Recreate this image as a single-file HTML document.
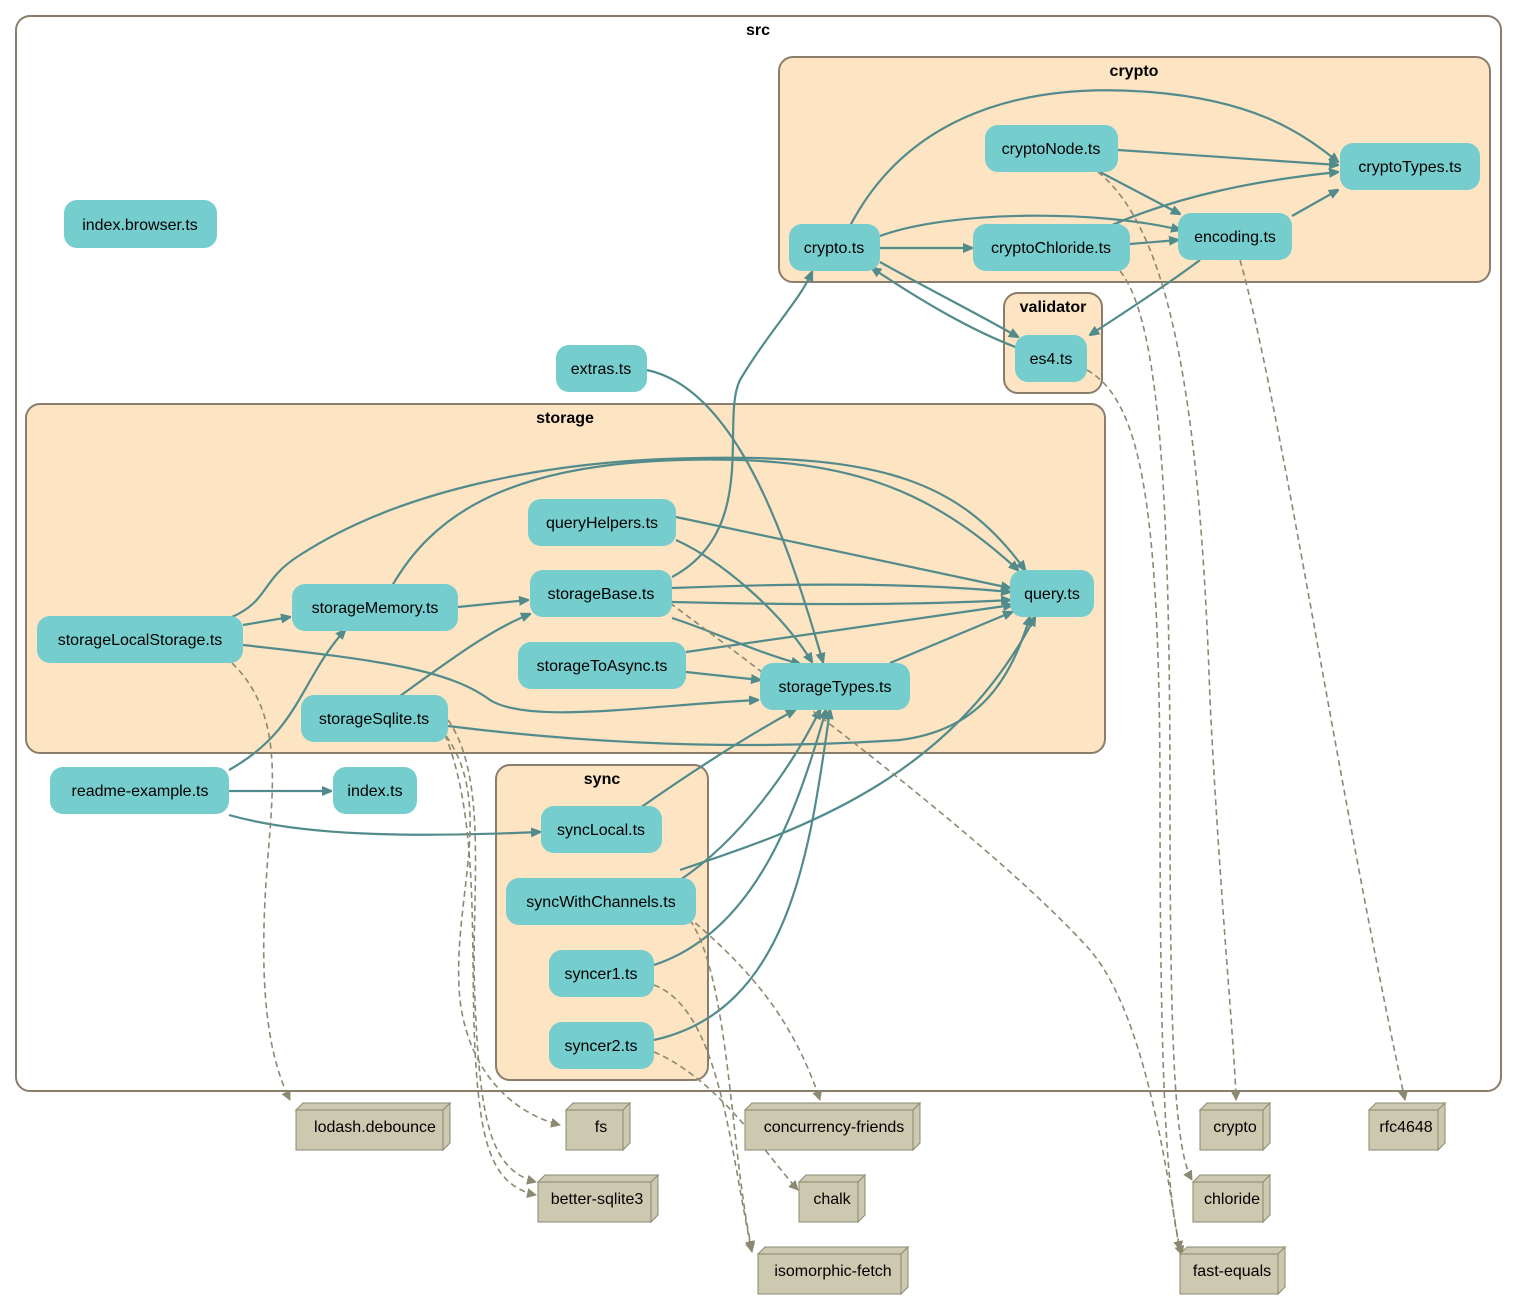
<!DOCTYPE html>
<html><head><meta charset="utf-8"><style>
body{margin:0;background:#fff}
svg{display:block}
text{font-family:"Liberation Sans",Arial,sans-serif;font-size:16px;fill:#000}
.n{fill:#76cdcd}
.cl{stroke:#8b7d6b;stroke-width:2}
.e{fill:none;stroke:#528b8b;stroke-width:2.2}
.d{fill:none;stroke:#8b8970;stroke-width:1.6;stroke-dasharray:6,4}
.x{fill:#cdc8b0;stroke:#8b8970;stroke-width:1}
.t{font-weight:bold}
</style></head><body>
<svg width="1517" height="1300" viewBox="0 0 1517 1300" xmlns="http://www.w3.org/2000/svg">
<defs>
<marker id="a" markerWidth="10" markerHeight="10" refX="9" refY="5" orient="auto" markerUnits="userSpaceOnUse"><path d="M0,0 L12,5 L0,10z" fill="#528b8b"/></marker>
<marker id="b" markerWidth="10" markerHeight="10" refX="9" refY="5" orient="auto" markerUnits="userSpaceOnUse"><path d="M0,0 L10,5 L0,10z" fill="#8b8970"/></marker>
</defs>
<rect x="16" y="16" width="1485" height="1075" rx="14" fill="#fff" class="cl"/>
<text x="758" y="35" text-anchor="middle" class="t">src</text>
<rect x="779" y="57" width="711" height="225" rx="14" fill="#fde4c3" class="cl"/>
<text x="1134" y="76" text-anchor="middle" class="t">crypto</text>
<rect x="1004" y="293" width="98" height="100" rx="14" fill="#fde4c3" class="cl"/>
<text x="1053" y="312" text-anchor="middle" class="t">validator</text>
<rect x="26" y="404" width="1079" height="349" rx="14" fill="#fde4c3" class="cl"/>
<text x="565" y="423" text-anchor="middle" class="t">storage</text>
<rect x="496" y="765" width="212" height="315" rx="14" fill="#fde4c3" class="cl"/>
<text x="602" y="784" text-anchor="middle" class="t">sync</text>

<!-- solid edges -->
<g class="e">
<path d="M1118,150 L1338,165" marker-end="url(#a)"/>
<path d="M1100,172 L1180,214" marker-end="url(#a)"/>
<path d="M1292,216 L1338,190" marker-end="url(#a)"/>
<path d="M1110,226 C1180,195 1260,180 1338,172" marker-end="url(#a)"/>
<path d="M1130,244 L1178,240" marker-end="url(#a)"/>
<path d="M850,226 C900,130 1000,80 1150,92 C1250,100 1300,130 1338,162" marker-end="url(#a)"/>
<path d="M880,236 C950,210 1100,210 1180,230" marker-end="url(#a)"/>
<path d="M880,248 L972,248" marker-end="url(#a)"/>
<path d="M880,262 C930,290 980,315 1018,337" marker-end="url(#a)"/>
<path d="M1018,348 C970,330 920,300 872,268" marker-end="url(#a)"/>
<path d="M1200,260 C1160,290 1120,315 1090,335" marker-end="url(#a)"/>
<path d="M647,370 C740,390 790,550 823,662" marker-end="url(#a)"/>
<path d="M672,577 C760,530 720,420 740,380 C770,330 800,300 812,272" marker-end="url(#a)"/>
<path d="M232,617 C270,600 260,580 300,555 C400,490 550,460 700,458 C880,455 960,480 1025,570" marker-end="url(#a)"/>
<path d="M392,586 C430,520 500,465 680,460 C850,455 930,490 1018,570" marker-end="url(#a)"/>
<path d="M676,517 L1010,588" marker-end="url(#a)"/>
<path d="M676,540 C720,560 780,610 812,662" marker-end="url(#a)"/>
<path d="M672,588 C800,583 920,583 1010,592" marker-end="url(#a)"/>
<path d="M672,602 C800,605 920,605 1010,600" marker-end="url(#a)"/>
<path d="M672,618 C710,630 750,650 800,664" marker-end="url(#a)"/>
<path d="M686,652 L1012,605" marker-end="url(#a)"/>
<path d="M686,672 L760,680" marker-end="url(#a)"/>
<path d="M890,663 L1012,612" marker-end="url(#a)"/>
<path d="M458,607 L528,600" marker-end="url(#a)"/>
<path d="M243,625 L290,617" marker-end="url(#a)"/>
<path d="M243,645 C380,660 450,670 490,700 C530,725 650,705 758,700" marker-end="url(#a)"/>
<path d="M400,696 C450,660 490,630 530,614" marker-end="url(#a)"/>
<path d="M448,726 C600,745 750,750 900,740 C980,730 1010,680 1030,617" marker-end="url(#a)"/>
<path d="M229,770 C300,730 300,680 345,630" marker-end="url(#a)"/>
<path d="M229,791 L331,791" marker-end="url(#a)"/>
<path d="M229,815 C300,835 400,838 540,832" marker-end="url(#a)"/>
<path d="M640,808 C680,780 740,740 795,710" marker-end="url(#a)"/>
<path d="M680,880 C740,840 790,770 820,710" marker-end="url(#a)"/>
<path d="M680,870 C800,830 950,780 1035,617" marker-end="url(#a)"/>
<path d="M654,965 C760,930 800,800 826,710" marker-end="url(#a)"/>
<path d="M654,1040 C790,1010 810,850 830,710" marker-end="url(#a)"/>
</g>

<!-- dashed edges -->
<g class="d">
<path d="M232,663 C290,720 270,800 265,900 C260,1000 270,1060 290,1100" marker-end="url(#b)"/>
<path d="M440,728 C500,800 450,900 460,1000 C470,1080 520,1115 560,1125" marker-end="url(#b)"/>
<path d="M448,720 C490,780 470,900 475,1000 C480,1120 490,1170 536,1182" marker-end="url(#b)"/>
<path d="M445,735 C480,820 470,950 475,1050 C480,1140 490,1185 536,1195" marker-end="url(#b)"/>
<path d="M670,603 C800,700 1000,850 1090,950 C1150,1020 1170,1200 1180,1250" marker-end="url(#b)"/>
<path d="M680,910 C740,960 790,1010 820,1100" marker-end="url(#b)"/>
<path d="M690,920 C730,980 730,1150 752,1250" marker-end="url(#b)"/>
<path d="M654,985 C720,1010 730,1150 752,1252" marker-end="url(#b)"/>
<path d="M654,1052 C720,1080 770,1160 798,1190" marker-end="url(#b)"/>
<path d="M1098,172 C1170,230 1200,400 1210,700 C1220,900 1235,1050 1236,1100" marker-end="url(#b)"/>
<path d="M1120,271 C1160,320 1170,500 1170,800 C1170,1050 1175,1150 1192,1180" marker-end="url(#b)"/>
<path d="M1240,260 C1280,400 1340,800 1405,1100" marker-end="url(#b)"/>
<path d="M1087,370 C1140,400 1160,500 1160,800 C1160,1050 1165,1200 1182,1255" marker-end="url(#b)"/>
</g>

<!-- nodes -->
<g>
<rect class="n" x="64" y="200" width="153" height="48" rx="13"/><text x="140" y="230" text-anchor="middle">index.browser.ts</text>
<rect class="n" x="556" y="345" width="91" height="47" rx="13"/><text x="601" y="374" text-anchor="middle">extras.ts</text>
<rect class="n" x="789" y="224" width="91" height="47" rx="13"/><text x="834" y="253" text-anchor="middle">crypto.ts</text>
<rect class="n" x="985" y="125" width="133" height="47" rx="13"/><text x="1051" y="154" text-anchor="middle">cryptoNode.ts</text>
<rect class="n" x="1340" y="143" width="140" height="47" rx="13"/><text x="1410" y="172" text-anchor="middle">cryptoTypes.ts</text>
<rect class="n" x="973" y="224" width="157" height="47" rx="13"/><text x="1051" y="253" text-anchor="middle">cryptoChloride.ts</text>
<rect class="n" x="1178" y="213" width="114" height="47" rx="13"/><text x="1235" y="242" text-anchor="middle">encoding.ts</text>
<rect class="n" x="1015" y="335" width="72" height="47" rx="13"/><text x="1051" y="364" text-anchor="middle">es4.ts</text>
<rect class="n" x="528" y="499" width="148" height="47" rx="13"/><text x="602" y="528" text-anchor="middle">queryHelpers.ts</text>
<rect class="n" x="530" y="570" width="142" height="47" rx="13"/><text x="601" y="599" text-anchor="middle">storageBase.ts</text>
<rect class="n" x="1010" y="570" width="84" height="47" rx="13"/><text x="1052" y="599" text-anchor="middle">query.ts</text>
<rect class="n" x="292" y="584" width="166" height="47" rx="13"/><text x="375" y="613" text-anchor="middle">storageMemory.ts</text>
<rect class="n" x="37" y="616" width="206" height="47" rx="13"/><text x="140" y="645" text-anchor="middle">storageLocalStorage.ts</text>
<rect class="n" x="518" y="642" width="168" height="47" rx="13"/><text x="602" y="671" text-anchor="middle">storageToAsync.ts</text>
<rect class="n" x="760" y="663" width="150" height="47" rx="13"/><text x="835" y="692" text-anchor="middle">storageTypes.ts</text>
<rect class="n" x="301" y="695" width="147" height="47" rx="13"/><text x="374" y="724" text-anchor="middle">storageSqlite.ts</text>
<rect class="n" x="50" y="767" width="179" height="47" rx="13"/><text x="140" y="796" text-anchor="middle">readme-example.ts</text>
<rect class="n" x="333" y="767" width="84" height="47" rx="13"/><text x="375" y="796" text-anchor="middle">index.ts</text>
<rect class="n" x="541" y="806" width="121" height="47" rx="13"/><text x="601" y="835" text-anchor="middle">syncLocal.ts</text>
<rect class="n" x="506" y="878" width="190" height="47" rx="13"/><text x="601" y="907" text-anchor="middle">syncWithChannels.ts</text>
<rect class="n" x="549" y="950" width="105" height="47" rx="13"/><text x="601" y="979" text-anchor="middle">syncer1.ts</text>
<rect class="n" x="549" y="1022" width="105" height="47" rx="13"/><text x="601" y="1051" text-anchor="middle">syncer2.ts</text>
</g>

<!-- external boxes -->
<g>
<path class="x" d="M296,1110 h147 v40 h-147z M296,1110 l7,-7 h147 l-7,7z M443,1110 l7,-7 v40 l-7,7z"/><text x="375" y="1132" text-anchor="middle">lodash.debounce</text>
<path class="x" d="M566,1110 h57 v40 h-57z M566,1110 l7,-7 h57 l-7,7z M623,1110 l7,-7 v40 l-7,7z"/><text x="601" y="1132" text-anchor="middle">fs</text>
<path class="x" d="M745,1110 h168 v40 h-168z M745,1110 l7,-7 h168 l-7,7z M913,1110 l7,-7 v40 l-7,7z"/><text x="834" y="1132" text-anchor="middle">concurrency-friends</text>
<path class="x" d="M1200,1110 h63 v40 h-63z M1200,1110 l7,-7 h63 l-7,7z M1263,1110 l7,-7 v40 l-7,7z"/><text x="1235" y="1132" text-anchor="middle">crypto</text>
<path class="x" d="M1369,1110 h69 v40 h-69z M1369,1110 l7,-7 h69 l-7,7z M1438,1110 l7,-7 v40 l-7,7z"/><text x="1406" y="1132" text-anchor="middle">rfc4648</text>
<path class="x" d="M538,1182 h113 v40 h-113z M538,1182 l7,-7 h113 l-7,7z M651,1182 l7,-7 v40 l-7,7z"/><text x="597" y="1204" text-anchor="middle">better-sqlite3</text>
<path class="x" d="M799,1182 h59 v40 h-59z M799,1182 l7,-7 h59 l-7,7z M858,1182 l7,-7 v40 l-7,7z"/><text x="832" y="1204" text-anchor="middle">chalk</text>
<path class="x" d="M1193,1182 h70 v40 h-70z M1193,1182 l7,-7 h70 l-7,7z M1263,1182 l7,-7 v40 l-7,7z"/><text x="1232" y="1204" text-anchor="middle">chloride</text>
<path class="x" d="M758,1254 h143 v40 h-143z M758,1254 l7,-7 h143 l-7,7z M901,1254 l7,-7 v40 l-7,7z"/><text x="833" y="1276" text-anchor="middle">isomorphic-fetch</text>
<path class="x" d="M1180,1254 h98 v40 h-98z M1180,1254 l7,-7 h98 l-7,7z M1278,1254 l7,-7 v40 l-7,7z"/><text x="1232" y="1276" text-anchor="middle">fast-equals</text>
</g>
</svg>
</body></html>
